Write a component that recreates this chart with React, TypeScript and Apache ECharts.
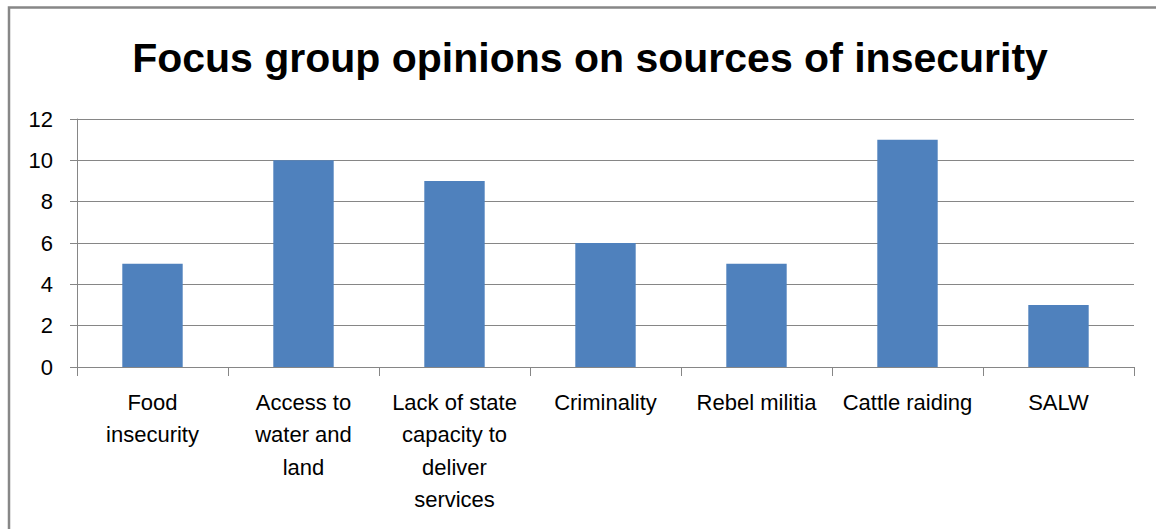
import React, { useEffect, useRef } from "react";
import * as echarts from "echarts";

const titleText = "Focus group opinions on sources of insecurity";
const categories = [
  "Food\ninsecurity",
  "Access to\nwater and\nland",
  "Lack of state\ncapacity to\ndeliver\nservices",
  "Criminality",
  "Rebel militia",
  "Cattle raiding",
  "SALW",
];
const values = [5, 10, 9, 6, 5, 11, 3];
const yTicks = { min: 0, max: 12, interval: 2 };

export default function App() {
  const ref = useRef<HTMLDivElement>(null);
  useEffect(() => {
    const chart = echarts.init(ref.current!, null, { renderer: "svg" });
    const font = "'Liberation Sans', Arial, sans-serif";
    chart.setOption({
      animation: false,
      backgroundColor: "#ffffff",
      title: {
        text: titleText,
        left: 585,
        textAlign: "center",
        top: 32,
        textStyle: { fontFamily: font, fontSize: 41, fontWeight: "bold", color: "#000000" },
      },
      graphic: [
        {
          type: "rect",
          shape: { x: 9, y: 7.5, width: 1160, height: 560 },
          style: { fill: "none", stroke: "#878787", lineWidth: 2.5 },
          silent: true,
        },
      ],
      grid: { left: 77, right: 22, top: 119, bottom: 162 },
      xAxis: {
        type: "category",
        data: categories,
        axisLine: { lineStyle: { color: "#868686", width: 1 } },
        axisTick: { show: true, length: 9, lineStyle: { color: "#868686" } },
        axisLabel: {
          interval: 0,
          margin: 19,
          fontFamily: font,
          fontSize: 22,
          lineHeight: 32.5,
          color: "#000000",
          align: "center",
        },
      },
      yAxis: {
        type: "value",
        min: yTicks.min,
        max: yTicks.max,
        interval: yTicks.interval,
        axisLine: { show: true, lineStyle: { color: "#868686", width: 1 } },
        axisTick: { show: true, length: 7, lineStyle: { color: "#868686" } },
        splitLine: { show: true, lineStyle: { color: "#868686", width: 1 } },
        axisLabel: { margin: 24, fontFamily: font, fontSize: 22, color: "#000000" },
      },
      series: [
        {
          type: "bar",
          data: values,
          barCategoryGap: "60%",
          itemStyle: { color: "#4F81BD" },
        },
      ],
    });
    return () => chart.dispose();
  }, []);
  return (
    <div
      ref={ref}
      style={{ position: "fixed", left: 0, top: 0, width: 1156, height: 529 }}
    />
  );
}
